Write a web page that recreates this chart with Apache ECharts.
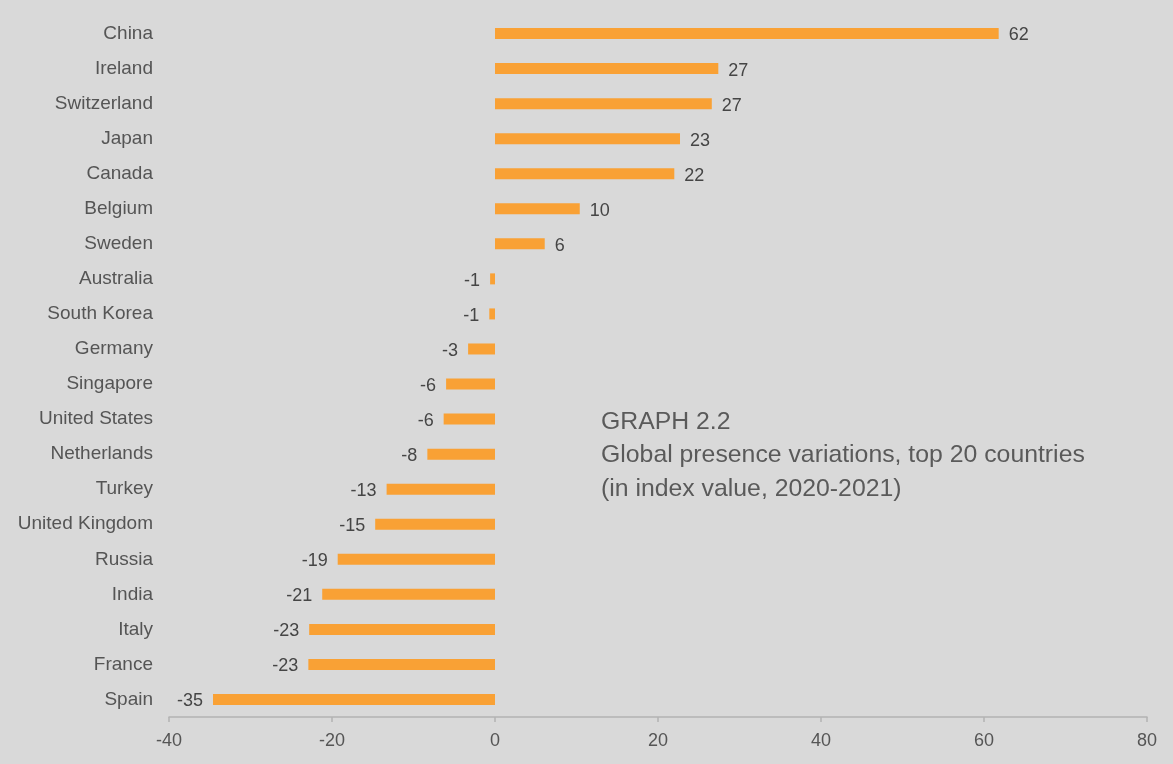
<!DOCTYPE html>
<html>
<head>
<meta charset="utf-8">
<script src="https://cdn.jsdelivr.net/npm/echarts@6/dist/echarts.min.js"></script>
<style>
  html, body { margin: 0; padding: 0; background: #d9d9d9; }
  #chart { width: 1173px; height: 764px; }
</style>
</head>
<body>
<div id="chart"></div>
<script>
// countries, top to bottom
var countries = ['China', 'Ireland', 'Switzerland', 'Japan', 'Canada', 'Belgium', 'Sweden',
    'Australia', 'South Korea', 'Germany', 'Singapore', 'United States', 'Netherlands',
    'Turkey', 'United Kingdom', 'Russia', 'India', 'Italy', 'France', 'Spain'];
// index variation 2020-2021 (bar length)
var variations = [61.8, 27.4, 26.6, 22.7, 22.0, 10.4, 6.1,
    -0.6, -0.7, -3.3, -6.0, -6.3, -8.3,
    -13.3, -14.7, -19.3, -21.2, -22.8, -22.9, -34.6];
// labels shown next to bars
var shownLabels = [62, 27, 27, 23, 22, 10, 6, -1, -1, -3, -6, -6, -8, -13, -15, -19, -21, -23, -23, -35];
var xTicks = {min: -40, max: 80, interval: 20};

var font = 'Liberation Sans';

var barData = variations.map(function (v, i) {
    return {
        value: v,
        label: {position: v >= 0 ? 'right' : 'left'}
    };
});

var chart = echarts.init(document.getElementById('chart'));
chart.setOption({
    backgroundColor: '#d9d9d9',
    animation: false,
    textStyle: {fontFamily: font},
    grid: {
        left: 169,
        right: 26,
        top: 16,
        bottom: 47
    },
    xAxis: {
        type: 'value',
        min: xTicks.min,
        max: xTicks.max,
        interval: xTicks.interval,
        splitLine: {show: false},
        axisLine: {show: true, lineStyle: {color: '#b3b3b3', width: 1.5}},
        axisTick: {show: true, length: 5, lineStyle: {color: '#b3b3b3', width: 1.5}},
        axisLabel: {
            color: '#555555',
            fontSize: 18,
            fontFamily: font,
            margin: 15
        }
    },
    yAxis: {
        type: 'category',
        inverse: true,
        data: countries,
        axisLine: {show: false},
        axisTick: {show: false},
        axisLabel: {
            color: '#555555',
            fontSize: 19,
            fontFamily: font,
            margin: 16,
            padding: [3, 0, 0, 0]
        }
    },
    series: [
        {
            type: 'bar',
            barWidth: 11,
            itemStyle: {color: '#f9a135'},
            label: {
                show: true,
                distance: 10,
                offset: [0, 2],
                color: '#454545',
                fontSize: 18,
                fontFamily: font,
                formatter: function (p) {
                    return shownLabels[p.dataIndex];
                }
            },
            data: barData
        }
    ],
    graphic: [
        {
            type: 'text',
            left: 601,
            top: 405,
            style: {
                text: 'GRAPH 2.2\nGlobal presence variations, top 20 countries\n(in index value, 2020-2021)',
                fill: '#5a5a5a',
                font: '24.8px "Liberation Sans"',
                lineHeight: 33.5
            }
        }
    ]
});
</script>
</body>
</html>
